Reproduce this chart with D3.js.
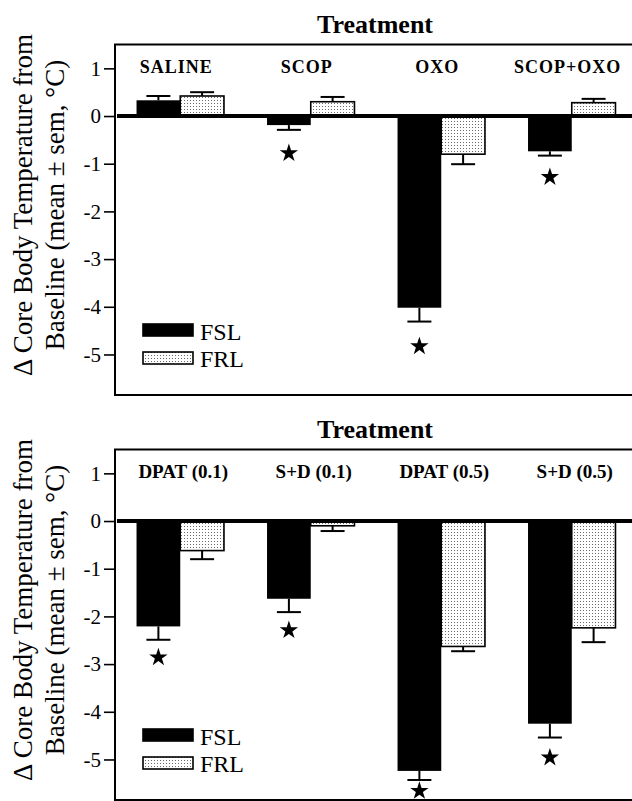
<!DOCTYPE html>
<html>
<head>
<meta charset="utf-8">
<script src="https://cdn.jsdelivr.net/npm/d3@7"></script>
<style>
  body { margin: 0; background: #fff; }
  text { font-family: "Liberation Serif", "Times New Roman", serif; fill: #000; }
</style>
</head>
<body>
<svg width="632" height="801"></svg>
<script>
// Values (deg C, mean and sem)
const topGroups = ["SALINE", "SCOP", "OXO", "SCOP+OXO"]
const topFSL = [0.33, -0.19, -4.02, -0.74]
const topFSLsem = [0.09, 0.10, 0.29, 0.09]
const topFRL = [0.42, 0.30, -0.80, 0.28]
const topFRLsem = [0.08, 0.10, 0.21, 0.08]
const topStars = [null, -0.78, -4.83, -1.28]

const botGroups = ["DPAT (0.1)", "S+D (0.1)", "DPAT (0.5)", "S+D (0.5)"]
const botFSL = [-2.21, -1.63, -5.24, -4.25]
const botFSLsem = [0.28, 0.28, 0.19, 0.29]
const botFRL = [-0.62, -0.10, -2.63, -2.24]
const botFRLsem = [0.18, 0.11, 0.10, 0.30]
const botStars = [-2.86, -2.29, -5.66, -4.96]

const series = ["FSL", "FRL"]
const yTicks = [1, 0, -1, -2, -3, -4, -5]
const yDomain = [-5.85, 1.5]

const svg = d3.select("svg")

// dotted fill for FRL
const defs = svg.append("defs")
const pat = defs.append("pattern")
	.attr("id", "dots")
	.attr("patternUnits", "userSpaceOnUse")
	.attr("width", 3)
	.attr("height", 3)
pat.append("rect").attr("width", 3).attr("height", 3).attr("fill", "#fff")
pat.append("rect").attr("x", 1).attr("y", 1).attr("width", 1).attr("height", 1).attr("fill", "#6a6a6a")

const left = 115, right = 637

let drawPanel = function (offsetY, groups, fsl, fslSem, frl, frlSem, stars, labelStyle) {
	const g = svg.append("g").attr("transform", `translate(0,${offsetY})`)

	const y = d3.scaleLinear().domain(yDomain).range([395, 44.5])
	const x = d3.scaleBand().domain(groups).range([left, right])
		.paddingInner(0.33).paddingOuter(0.165)
	const xs = d3.scaleBand().domain(series).range([0, x.bandwidth()])

	const rows = groups.map((grp, i) => [
		{ grp: grp, s: "FSL", v: fsl[i], e: fslSem[i] },
		{ grp: grp, s: "FRL", v: frl[i], e: frlSem[i] }
	]).flat()

	// title
	g.append("text")
		.attr("x", 375)
		.attr("y", 33)
		.attr("text-anchor", "middle")
		.attr("font-weight", "bold")
		.attr("font-size", 26)
		.text("Treatment")

	// bars
	g.append("g").selectAll("rect")
		.data(rows)
		.join("rect")
		.attr("x", d => x(d.grp) + xs(d.s))
		.attr("width", xs.bandwidth())
		.attr("y", d => Math.min(y(d.v), y(0)))
		.attr("height", d => Math.abs(y(d.v) - y(0)))
		.attr("fill", d => d.s == "FSL" ? "#000" : "url(#dots)")
		.attr("stroke", "#000")
		.attr("stroke-width", d => d.s == "FSL" ? 0 : 1.6)

	// error bars (one sided, away from zero)
	const err = g.append("g").attr("stroke", "#000").attr("stroke-width", 2)
	rows.forEach(d => {
		const cx = x(d.grp) + xs(d.s) + xs.bandwidth() / 2
		const end = d.v >= 0 ? d.v + d.e : d.v - d.e
		err.append("line").attr("x1", cx).attr("x2", cx).attr("y1", y(d.v)).attr("y2", y(end))
		err.append("line").attr("x1", cx - 12).attr("x2", cx + 12).attr("y1", y(end)).attr("y2", y(end))
	})

	// stars
	g.append("g").selectAll("path")
		.data(groups.map((grp, i) => ({ grp: grp, v: stars[i] })).filter(d => d.v != null))
		.join("path")
		.attr("d", d3.symbol(d3.symbolStar, 105))
		.attr("transform", d => `translate(${x(d.grp) + xs("FSL") + xs.bandwidth() / 2},${y(d.v)})`)
		.attr("fill", "#000")

	// zero line
	g.append("line")
		.attr("x1", left + 2).attr("x2", right)
		.attr("y1", y(0)).attr("y2", y(0))
		.attr("stroke", "#000").attr("stroke-width", 4)

	// frame
	g.append("rect")
		.attr("x", left).attr("y", y(yDomain[1]))
		.attr("width", right - left).attr("height", y(yDomain[0]) - y(yDomain[1]))
		.attr("fill", "none").attr("stroke", "#000").attr("stroke-width", 2)

	// y axis
	const ax = g.append("g")
		.attr("transform", `translate(${left},0)`)
		.call(d3.axisLeft(y).tickValues(yTicks).tickSize(11).tickPadding(3).tickFormat(d3.format("d")))
	ax.select(".domain").remove()
	ax.selectAll("line").attr("stroke", "#000").attr("stroke-width", 1.6)
	ax.selectAll("text")
		.attr("font-size", 21)
		.text(d => d < 0 ? "-" + Math.abs(d) : d)

	// group labels
	g.append("g").selectAll("text")
		.data(groups)
		.join("text")
		.attr("x", d => x(d) + x.bandwidth() / 2 + labelStyle.nudge)
		.attr("y", y(0.9))
		.attr("text-anchor", "middle")
		.attr("font-weight", "bold")
		.attr("font-size", labelStyle.size)
		.attr("letter-spacing", labelStyle.spacing)
		.text(d => d)

	// y title
	const yt = g.append("g").attr("transform", "translate(0,205) rotate(-90)")
	yt.append("text").attr("x", 0).attr("y", 32).attr("text-anchor", "middle")
		.attr("font-size", 27).text("\u0394 Core Body Temperature from")
	yt.append("text").attr("x", 0).attr("y", 64).attr("text-anchor", "middle")
		.attr("font-size", 27).text("Baseline (mean \u00b1 sem, \u00b0C)")

	// legend
	const lg = g.append("g")
	series.forEach((s, i) => {
		lg.append("rect")
			.attr("x", 143).attr("y", 324 + i * 28)
			.attr("width", 50).attr("height", 12)
			.attr("fill", s == "FSL" ? "#000" : "url(#dots)")
			.attr("stroke", "#000").attr("stroke-width", 1.6)
		lg.append("text")
			.attr("x", 200).attr("y", 340 + i * 27)
			.attr("font-size", 24)
			.text(s)
	})
}

drawPanel(0, topGroups, topFSL, topFSLsem, topFRL, topFRLsem, topStars, { size: 18, spacing: 1, nudge: -4 })
drawPanel(405, botGroups, botFSL, botFSLsem, botFRL, botFRLsem, botStars, { size: 19, spacing: 0, nudge: 3 })
</script>
</body>
</html>
